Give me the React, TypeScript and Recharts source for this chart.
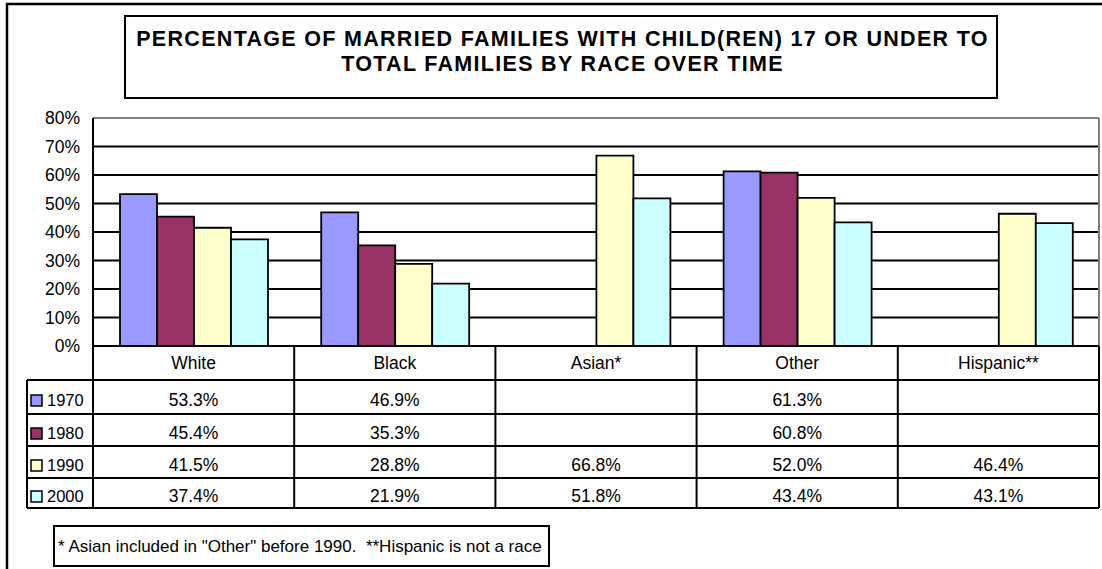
import { BarChart, Bar, XAxis, YAxis, CartesianGrid, ReferenceLine } from 'recharts';

const categories = ['White', 'Black', 'Asian*', 'Other', 'Hispanic**'];
const years = ['1970', '1980', '1990', '2000'];
const v1970 = [53.3, 46.9, null, 61.3, null];
const v1980 = [45.4, 35.3, null, 60.8, null];
const v1990 = [41.5, 28.8, 66.8, 52.0, 46.4];
const v2000 = [37.4, 21.9, 51.8, 43.4, 43.1];
const yTicks = [0, 10, 20, 30, 40, 50, 60, 70, 80];
const colors = ['#9999FF', '#993366', '#FFFFCC', '#CCFFFF'];

const titleLines = [
  'PERCENTAGE OF MARRIED FAMILIES WITH CHILD(REN) 17 OR UNDER TO',
  'TOTAL FAMILIES BY RACE OVER TIME',
];
const footnote = '* Asian included in "Other" before 1990.  **Hispanic is not a race';

const series = [v1970, v1980, v1990, v2000];
const data = categories.map((c, i) => ({
  name: c,
  y1970: v1970[i],
  y1980: v1980[i],
  y1990: v1990[i],
  y2000: v2000[i],
}));

const W = 1102;
const H = 569;
const PLOT_L = 93;
const PLOT_R = 1099;
const PLOT_T = 118;
const PLOT_B = 346;
const ROWS = [346, 380, 414, 446, 478, 508];
const TABLE_L = 27;
const FONT = '"Liberation Sans", Arial, sans-serif';
const FS = 17.5;

const bandW = (PLOT_R - PLOT_L) / categories.length;
const fmt = (v: number | null) => (v == null ? '' : `${v.toFixed(1)}%`);

function HeaderTick(props: any) {
  const { x, payload } = props;
  return (
    <text x={x} y={369} textAnchor="middle" fontSize={FS} fontFamily={FONT} fill="#000">
      {payload.value}
    </text>
  );
}

export default function App() {
  return (
    <div style={{ position: 'absolute', left: 0, top: 0, width: W, height: H, background: '#fff' }}>
      <BarChart
        width={W}
        height={H}
        data={data}
        margin={{ top: PLOT_T, right: W - PLOT_R, left: PLOT_L - 60, bottom: H - PLOT_B - 34 }}
        barCategoryGap={27}
        barGap={0}
      >
        <CartesianGrid vertical={false} stroke="#000" strokeWidth={1.8} />
        <XAxis
          dataKey="name"
          height={34}
          axisLine={false}
          tickLine={false}
          tick={<HeaderTick />}
          interval={0}
        />
        <YAxis
          width={60}
          domain={[0, 80]}
          ticks={yTicks}
          tickFormatter={(v) => `${v}%`}
          tick={{ fontSize: FS, fill: '#000', fontFamily: FONT }}
          tickLine={false}
          tickMargin={7}
          axisLine={{ stroke: '#000', strokeWidth: 2 }}
        />
        <ReferenceLine y={80} stroke="#808080" strokeWidth={2} />
        {years.map((y, i) => (
          <Bar
            key={y}
            dataKey={`y${y}`}
            fill={colors[i]}
            stroke="#000"
            strokeWidth={1.8}
            isAnimationActive={false}
          />
        ))}
      </BarChart>

      <svg width={W} height={H} style={{ position: 'absolute', left: 0, top: 0, pointerEvents: 'none' }}>
        {/* outer chart frame */}
        <rect x={7} y={4} width={1200} height={700} fill="none" stroke="#000" strokeWidth={2.5} />

        {/* title box */}
        <rect x={125} y={16} width={872} height={82} fill="none" stroke="#000" strokeWidth={2} />
        {titleLines.map((t, i) => (
          <text
            key={t}
            x={562.5}
            y={46 + i * 25}
            textAnchor="middle"
            fontSize={21.5}
            fontWeight="bold"
            fontFamily={FONT}
            letterSpacing={1.3}
            fill="#000"
          >
            {t}
          </text>
        ))}

        {/* plot right border */}
        <line x1={PLOT_R} y1={PLOT_T} x2={PLOT_R} y2={PLOT_B} stroke="#808080" strokeWidth={2} />

        {/* data table grid */}
        {ROWS.map((y, i) => (
          <line
            key={y}
            x1={i === 0 ? PLOT_L : TABLE_L}
            y1={y}
            x2={PLOT_R}
            y2={y}
            stroke="#000"
            strokeWidth={2}
          />
        ))}
        <line x1={TABLE_L} y1={ROWS[1]} x2={TABLE_L} y2={ROWS[5]} stroke="#000" strokeWidth={2} />
        {categories.map((c, i) => (
          <line
            key={c}
            x1={PLOT_L + i * bandW}
            y1={ROWS[0]}
            x2={PLOT_L + i * bandW}
            y2={ROWS[5]}
            stroke="#000"
            strokeWidth={2}
          />
        ))}
        <line x1={PLOT_R} y1={ROWS[0]} x2={PLOT_R} y2={ROWS[5]} stroke="#000" strokeWidth={2} />

        {/* table rows: legend key + values */}
        {years.map((y, r) => {
          const mid = (ROWS[r + 1] + ROWS[r + 2]) / 2;
          return (
            <g key={y}>
              <rect x={31} y={mid - 2} width={11} height={11} fill={colors[r]} stroke="#000" strokeWidth={1.5} />
              <text x={47} y={mid + 9} fontSize={16.5} fontFamily={FONT} fill="#000">
                {y}
              </text>
              {series[r].map((v, i) => (
                <text
                  key={i}
                  x={PLOT_L + (i + 0.5) * bandW}
                  y={mid + 8.5}
                  textAnchor="middle"
                  fontSize={FS}
                  fontFamily={FONT}
                  fill="#000"
                >
                  {fmt(v)}
                </text>
              ))}
            </g>
          );
        })}

        {/* footnote box */}
        <rect x={54} y={526} width={495} height={40} fill="#fff" stroke="#000" strokeWidth={2} />
        <text x={58} y={552} fontSize={17} fontFamily={FONT} fill="#000" style={{ whiteSpace: 'pre' }}>
          {footnote}
        </text>
      </svg>
    </div>
  );
}
